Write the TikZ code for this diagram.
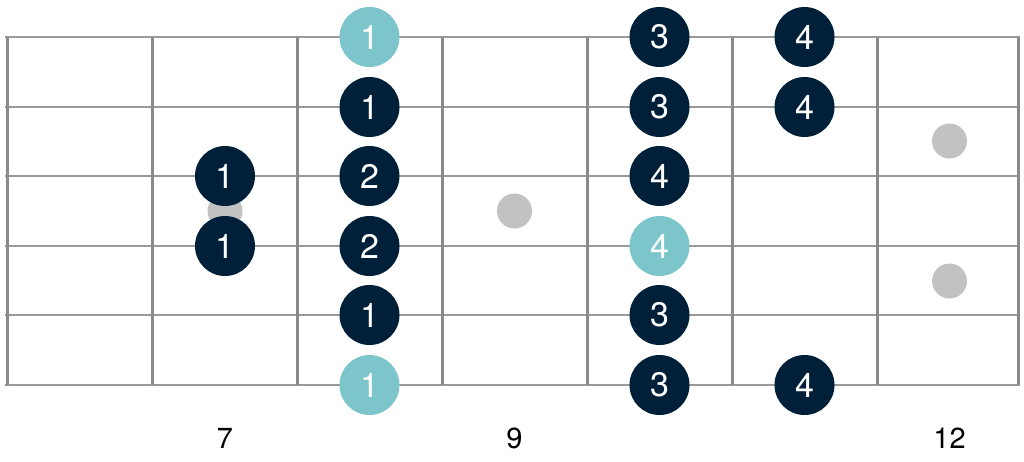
\documentclass[tikz,border=0pt]{standalone}
\usepackage{fontspec}
\setmainfont{TeX Gyre Heros}
\definecolor{navy}{HTML}{001F38}
\definecolor{teal}{HTML}{7CC6CB}
\definecolor{inlay}{HTML}{C2C2C2}
\definecolor{strcol}{HTML}{9A9A9A}
\definecolor{fretcol}{HTML}{8A8A8A}
\tikzset{
  stringline/.style={draw=strcol, line width=1.8pt},
  fretline/.style={draw=fretcol, line width=3pt},
  note/.style={circle, fill=navy, minimum size=60pt, inner sep=0pt, text=white, font=\fontsize{34}{34}\selectfont},
  root/.style={note, fill=teal},
  inlaydot/.style={circle, fill=inlay, minimum size=35pt, inner sep=0pt},
  fretnum/.style={font=\fontsize{29}{29}\selectfont, text=black}
}
\begin{document}
\begin{tikzpicture}[x=1pt,y=-1pt]
\useasboundingbox (0,0) rectangle (1024,461);
% strings
\foreach \s/\yy in {1/37,2/107,3/176,4/246,5/315,6/385}{
  \coordinate (sL\s) at (5,\yy);
  \coordinate (sR\s) at (1020,\yy);
  \draw[stringline] (sL\s) -- (sR\s);
}
% frets
\foreach \f/\xx in {0/7.5,1/152,2/297,3/442,4/587,5/732,6/877,7/1018.5}{
  \coordinate (fT\f) at (\xx,37);
  \coordinate (fB\f) at (\xx,385);
  \draw[fretline] (fT\f) -- (fB\f);
}
% inlays
\node[inlaydot] (in7) at (225,211) {};
\node[inlaydot] (in9) at (514.5,211) {};
\node[inlaydot] (in12a) at (949.5,141) {};
\node[inlaydot] (in12b) at (949.5,281) {};
% notes string 1
\node[root] (n18) at (369.5,37) {1};
\node[note] (n110) at (659.5,37) {3};
\node[note] (n111) at (804.5,37) {4};
% string 2
\node[note] (n28) at (369.5,107) {1};
\node[note] (n210) at (659.5,107) {3};
\node[note] (n211) at (804.5,107) {4};
% string 3
\node[note] (n37) at (225,176) {1};
\node[note] (n38) at (369.5,176) {2};
\node[note] (n310) at (659.5,176) {4};
% string 4
\node[note] (n47) at (225,246) {1};
\node[note] (n48) at (369.5,246) {2};
\node[root] (n410) at (659.5,246) {4};
% string 5
\node[note] (n58) at (369.5,315) {1};
\node[note] (n510) at (659.5,315) {3};
% string 6
\node[root] (n68) at (369.5,385) {1};
\node[note] (n610) at (659.5,385) {3};
\node[note] (n611) at (804.5,385) {4};
% fret numbers
\node[fretnum] (l7) at (225,438) {7};
\node[fretnum] (l9) at (514.5,438) {9};
\node[fretnum] (l12) at (949.5,438) {12};
\end{tikzpicture}
\end{document}
